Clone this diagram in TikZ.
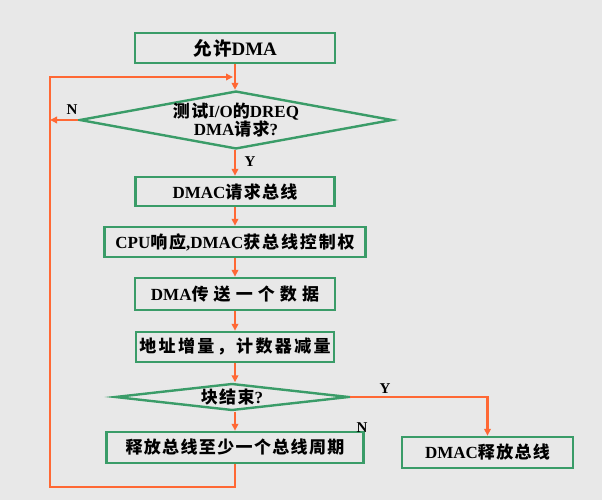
\documentclass[tikz,border=0pt]{standalone}
\usepackage{fontspec}
\setmainfont{Liberation Serif}
\newfontfamily\cjkA{Noto Sans CJK SC}[LetterSpace=8]
\newfontfamily\cjkB{Noto Sans CJK SC}[LetterSpace=14]
\newfontfamily\cjkC{Noto Sans CJK SC}[LetterSpace=30]
\newfontfamily\cjkD{Noto Sans CJK SC}[LetterSpace=11]
\newcommand{\zhs}[1]{{\cjkA\bfseries\fontsize{17}{18}\selectfont #1}}
\newcommand{\zhsb}[1]{{\cjkB\bfseries\fontsize{17}{18}\selectfont #1}}
\newcommand{\zhsc}[1]{{\cjkC\bfseries\fontsize{17}{18}\selectfont #1}}
\newcommand{\zhsd}[1]{{\cjkD\bfseries\fontsize{17}{18}\selectfont #1}}
\usetikzlibrary{shapes.geometric,arrows.meta}
\definecolor{bgc}{RGB}{232,232,232}
\definecolor{grn}{RGB}{58,156,104}
\definecolor{org}{RGB}{255,104,52}
\begin{document}
\begin{tikzpicture}[x=1pt,y=-1pt,
  box/.style={draw=grn,line width=2.4pt,rectangle,inner sep=0pt,
    font=\bfseries\fontsize{17}{18}\selectfont,text=black},
  dia/.style={draw=grn,line width=2.4pt,diamond,inner sep=0pt,
    font=\bfseries\fontsize{17}{17}\selectfont,align=center,text=black},
  arr/.style={draw=org,line width=2.3pt,-{Triangle[length=7pt,width=6.5pt]}},
  lbl/.style={font=\bfseries\fontsize{15}{17}\selectfont,text=black,inner sep=0pt}]
\fill[bgc] (0,0) rectangle (602,500);
\useasboundingbox (0,0) rectangle (602,500);

\node[box,minimum width=200pt,minimum height=30pt,font=\bfseries\fontsize{19}{20}\selectfont] (b1) at (235,48) {{\cjkA\bfseries\fontsize{18.5}{19}\selectfont 允许}DMA};
\node[dia,minimum width=308pt,minimum height=57pt,aspect=5.4] (d1) at (236,120) {\zhs{测试}I/O\zhs{的}DREQ\\DMA\zhs{请求}?};
\node[box,minimum width=199pt,minimum height=29pt] (b2) at (235,191.5) {DMAC\zhs{请求总线}};
\node[box,minimum width=261pt,minimum height=30pt] (b3) at (235,242) {CPU\zhsd{响应},DMAC\zhsd{获总线控制权}};
\node[box,minimum width=200pt,minimum height=32pt] (b4) at (235,294) {DMA\zhsc{传送一个数据}};
\node[box,minimum width=198pt,minimum height=30pt] (b5) at (235,347) {\zhsb{地址增量，计数器减量}};
\node[dia,minimum width=234pt,minimum height=27pt,aspect=8.6] (d2) at (232,397) {\zhs{块结束}?};
\node[box,minimum width=257pt,minimum height=31pt] (b7) at (235,447.5) {\zhs{释放总线至少一个总线周期}};
\node[box,minimum width=171pt,minimum height=31pt] (b6) at (487.5,452.5) {DMAC\zhs{释放总线}};

\coordinate (lb) at (50,487);
\coordinate (lin) at (233,77);

\draw[arr] (b1.south) -- (b1.south |- d1.north);
\draw[arr] (d1.south -| b1.south) -- (b2.north);
\draw[arr] (b2.south) -- (b3.north);
\draw[arr] (b3.south) -- (b4.north);
\draw[arr] (b4.south) -- (b5.north);
\draw[arr] (b5.south) -- (b5.south |- d2.north);
\draw[arr] (b5.south |- d2.south) -- (b7.north);
\draw[arr] (d1.west) -- (d1.west -| lb);
\draw[arr] (b7.south) |- (lb) |- (lin);
\draw[arr] (d2.east) -| (b6.north);

\node[lbl] (ln1) at (72,110) {N};
\node[lbl] (ly1) at (250,162) {Y};
\node[lbl] (ly2) at (385,389) {Y};
\node[lbl] (ln2) at (362,428) {N};
\end{tikzpicture}
\end{document}
